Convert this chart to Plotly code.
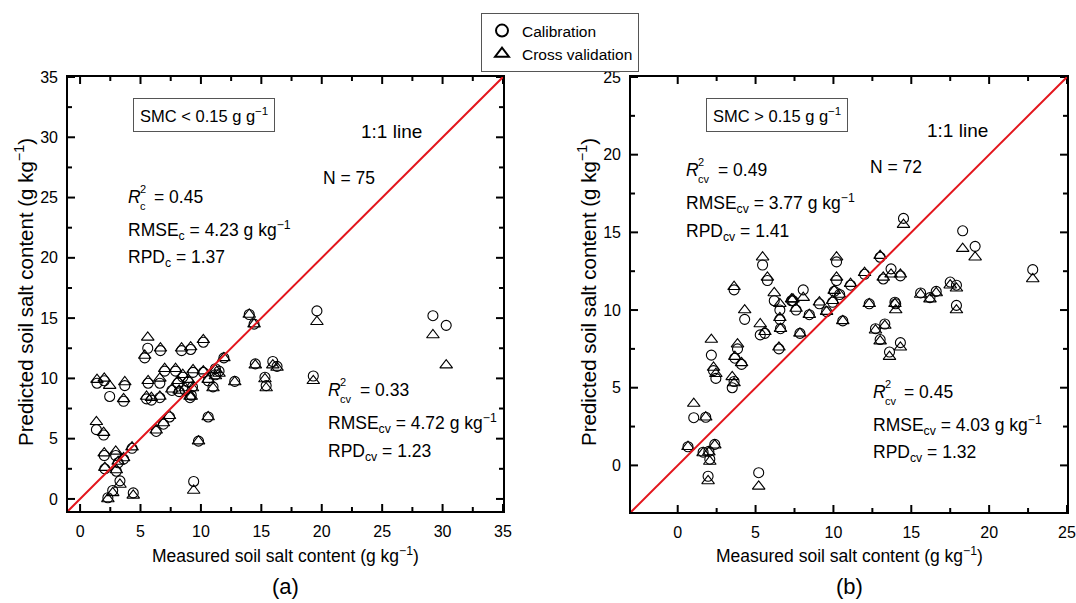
import plotly.graph_objects as go

W, H = 1076, 603
FONT = "Liberation Sans, Arial, sans-serif"

# ---- (a) SMC < 0.15 g g-1 : measured vs predicted soil salt content ----
meas_a = [1.4, 2.0, 2.45, 3.7, 3.6, 1.35, 1.95, 2.0, 2.95, 2.05, 3.0, 3.15, 3.6, 4.3,
          3.3, 2.7, 2.3, 4.4, 5.6, 5.35, 6.65, 8.4, 9.15, 5.63, 5.5, 5.9, 6.6, 6.6,
          7.0, 7.9, 8.1, 8.2, 8.5, 8.95, 9.1, 9.35, 7.4, 6.9, 6.3, 9.8, 9.4, 10.2,
          11.9, 14.0, 14.4, 19.6, 14.5, 15.95, 16.3, 15.3, 15.4, 19.3, 12.8, 10.2,
          11.2, 11.2, 10.6, 11.0, 9.3, 9.2, 10.6, 29.2, 30.3, 7.6, 8.7, 11.5]
cal_a = [9.6, 9.8, 8.5, 9.4, 8.1, 5.75, 5.3, 3.6, 3.6, 2.5, 2.3, 3.0, 3.3, 4.2,
         1.5, 0.7, 0.1, 0.5, 12.5, 11.7, 12.3, 12.3, 12.4, 9.6, 8.3, 8.2, 8.4, 9.6,
         10.6, 10.6, 9.6, 8.9, 10.1, 9.7, 8.4, 10.5, 6.8, 6.2, 5.6, 4.8, 1.45, 13.0,
         11.7, 15.3, 14.5, 15.6, 11.2, 11.4, 11.0, 10.1, 9.4, 10.2, 9.75, 10.5,
         10.8, 10.3, 9.8, 9.3, 9.3, 8.6, 6.8, 15.2, 14.4, 9.0, 9.0, 10.6]
cv_a = [9.9, 10.0, 9.4, 9.7, 8.3, 6.4, 5.5, 3.8, 3.95, 2.6, 2.4, 3.1, 3.4, 4.3,
        1.2, 0.5, 0.0, 0.3, 13.4, 11.9, 12.5, 12.5, 12.6, 9.8, 8.5, 8.4, 8.5, 10.0,
        10.8, 10.8, 9.8, 9.0, 10.3, 9.9, 8.5, 10.7, 6.9, 6.3, 5.7, 4.8, 0.7, 13.2,
        11.7, 15.3, 14.5, 14.7, 11.1, 11.1, 10.9, 9.95, 9.2, 9.8, 9.7, 10.6,
        10.7, 10.2, 9.9, 9.2, 9.2, 8.5, 6.8, 13.6, 11.1, 9.1, 9.2, 10.4]

# ---- (b) SMC > 0.15 g g-1 ----
meas_b = [0.66, 1.03, 1.8, 1.63, 2.38, 2.06, 2.0, 1.95, 2.16, 2.3, 2.45, 3.5, 3.62,
          3.84, 3.67, 4.1, 4.3, 3.62, 5.45, 5.76, 5.3, 5.6, 6.2, 6.56, 6.56, 6.6,
          6.5, 7.31, 7.6, 8.06, 7.85, 7.4, 8.45, 9.1, 9.56, 9.95, 10.05, 10.4, 10.2,
          10.2, 10.6, 11.1, 12.0, 13.0, 13.7, 13.2, 14.3, 12.3, 12.7, 13.3, 13.0,
          13.6, 14.3, 13.95, 14.0, 14.5, 15.6, 16.2, 16.6, 17.5, 17.9, 17.9, 18.3,
          19.1, 22.8, 5.2]
cal_b = [1.2, 3.07, 3.1, 0.85, 1.35, 0.4, 0.9, -0.7, 7.1, 6.1, 5.6, 5.0, 5.4,
         7.5, 6.9, 6.5, 9.4, 11.3, 12.9, 11.9, 8.4, 8.5, 10.6, 10.0, 9.4, 8.8,
         7.5, 10.6, 10.0, 11.3, 8.5, 10.6, 9.7, 10.4, 9.9, 10.5, 11.2, 11.0, 13.1,
         11.9, 9.3, 11.6, 12.3, 13.4, 12.65, 12.0, 12.2, 10.4, 8.8, 9.1, 8.1,
         7.3, 7.9, 10.5, 10.4, 15.9, 11.1, 10.8, 11.2, 11.8, 11.6, 10.3, 15.1,
         14.1, 12.6, -0.47]
cv_b = [1.2, 3.98, 3.1, 0.8, 1.3, 0.25, 0.85, -1.0, 8.1, 6.3, 5.9, 5.7, 5.3,
        7.8, 7.0, 6.6, 10.0, 11.5, 13.4, 12.1, 9.1, 8.6, 11.1, 10.4, 9.5, 8.8,
        7.6, 10.7, 10.1, 10.8, 8.5, 10.7, 9.7, 10.5, 9.9, 10.6, 11.25, 11.0, 13.4,
        12.1, 9.3, 11.7, 12.4, 13.5, 12.3, 12.1, 12.3, 10.4, 8.7, 9.0, 8.0,
        7.0, 7.6, 10.4, 10.0, 15.5, 11.0, 10.7, 11.1, 11.6, 11.4, 10.0, 13.95,
        13.4, 12.0, -1.35]

# axis limits (also the ends of the 1:1 lines)
range_a = [-1, 35]
range_b = [-3, 25]
ticks_a = [0, 5, 10, 15, 20, 25, 30, 35]
ticks_b = [0, 5, 10, 15, 20, 25]

# plot-area boxes in pixels: left, right, top, bottom
box_a = (68, 503, 77, 511)
box_b = (631, 1067, 77, 512)


def px(x):
    return x / W


def py(y):
    return 1 - y / H


def frame_ticks(rng, ticks, box):
    """Segments for inward major/minor ticks on all four sides of a panel."""
    step = ticks[1] - ticks[0]
    minor = [t + step / 2 for t in ticks if rng[0] < t + step / 2 < rng[1]]
    ux = (rng[1] - rng[0]) / (box[1] - box[0])  # data units per pixel
    uy = (rng[1] - rng[0]) / (box[3] - box[2])
    xs, ys = [], []
    for vals, ln in [(ticks, 7), (minor, 4)]:
        for t in vals:
            for edge, sign in [(rng[0], 1), (rng[1], -1)]:
                xs += [t, t, None, edge, edge + sign * ln * ux, None]
                ys += [edge, edge + sign * ln * uy, None, t, t, None]
    return xs, ys


fig = go.Figure()

for xs, ys_c, ys_v, xa, ya, rng, tks, box, leg in [
    (meas_a, cal_a, cv_a, "x", "y", range_a, ticks_a, box_a, True),
    (meas_b, cal_b, cv_b, "x2", "y2", range_b, ticks_b, box_b, False),
]:
    tx, ty = frame_ticks(rng, tks, box)
    fig.add_trace(go.Scatter(x=tx, y=ty, mode="lines", line=dict(color="black", width=2),
                             xaxis=xa, yaxis=ya, showlegend=False, hoverinfo="skip",
                             cliponaxis=False))
    fig.add_trace(go.Scatter(x=xs, y=ys_c, mode="markers", name="Calibration",
                             marker=dict(symbol="circle-open", size=10, color="black",
                                         line=dict(width=1.1)),
                             xaxis=xa, yaxis=ya, showlegend=leg))
    fig.add_trace(go.Scatter(x=xs, y=ys_v, mode="markers", name="Cross validation",
                             marker=dict(symbol="triangle-up-open", size=11, color="black",
                                         line=dict(width=1.1)),
                             xaxis=xa, yaxis=ya, showlegend=leg))
    fig.add_trace(go.Scatter(x=rng, y=rng, mode="lines", line=dict(color="#e3151c", width=2),
                             xaxis=xa, yaxis=ya, showlegend=False, hoverinfo="skip"))


def axis(domain, rng, ticks):
    return dict(
        domain=domain, range=rng, tickmode="array", tickvals=ticks, automargin=False,
        showgrid=False, zeroline=False,
        showline=True, linecolor="black", linewidth=1.6, mirror=True,
        ticks="", ticklabelstandoff=5,
        tickfont=dict(family=FONT, size=16, color="black"),
    )


fig.update_layout(
    width=W, height=H, margin=dict(l=0, r=0, t=0, b=0, pad=0, autoexpand=False),
    paper_bgcolor="white", plot_bgcolor="white",
    font=dict(family=FONT, size=16, color="black"),
    xaxis=axis([px(box_a[0]), px(box_a[1])], range_a, ticks_a) | dict(anchor="y"),
    yaxis=axis([py(box_a[3]), py(box_a[2])], range_a, ticks_a) | dict(anchor="x"),
    xaxis2=axis([px(box_b[0]), px(box_b[1])], range_b, ticks_b) | dict(anchor="y2"),
    yaxis2=axis([py(box_b[3]), py(box_b[2])], range_b, ticks_b) | dict(anchor="x2"),
    legend=dict(x=px(481), y=py(13), xanchor="left", yanchor="top",
                bordercolor="#555", borderwidth=1, bgcolor="white",
                font=dict(family=FONT, size=15.5, color="black"),
                itemsizing="constant", tracegroupgap=0, itemwidth=30),
    showlegend=True,
)


def text(x, y, s, size=17.5, xanchor="left", **kw):
    fig.add_annotation(x=px(x), y=py(y), xref="paper", yref="paper", text=s,
                       showarrow=False, xanchor=xanchor, yanchor="middle",
                       font=dict(family=FONT, size=size, color="black"), **kw)


def r2(x, y, sub, value, eq_x):
    text(x, y, "<i>R</i>")
    text(x + 12, y - 8, "2", size=11)
    text(x + 12, y + 9, sub, size=11)
    text(eq_x, y, "= " + value)


SUP = "<sup>\u22121</sup>"

# panel (a)
text(204, 115, "SMC &lt; 0.15 g g" + SUP, size=16.5, xanchor="center",
     bordercolor="#555", borderwidth=1, borderpad=6)
text(359, 131, "1:1 line", size=19)
text(321, 178, "N = 75")
r2(126, 197, "c", "0.45", 152)
text(126, 230, "RMSE<sub>c</sub> = 4.23 g kg" + SUP)
text(126, 259, "RPD<sub>c</sub> = 1.37")
r2(326, 390, "cv", "0.33", 358)
text(326, 423, "RMSE<sub>cv</sub> = 4.72 g kg" + SUP)
text(326, 452, "RPD<sub>cv</sub> = 1.23")

# panel (b)
text(777, 115, "SMC &gt; 0.15 g g" + SUP, size=16.5, xanchor="center",
     bordercolor="#555", borderwidth=1, borderpad=6)
text(925, 130, "1:1 line", size=19)
text(868, 167, "N = 72")
r2(684, 170, "cv", "0.49", 716)
text(684, 203, "RMSE<sub>cv</sub> = 3.77 g kg" + SUP)
text(684, 232, "RPD<sub>cv</sub> = 1.41")
r2(871, 392, "cv", "0.45", 902)
text(871, 425, "RMSE<sub>cv</sub> = 4.03 g kg" + SUP)
text(871, 453, "RPD<sub>cv</sub> = 1.32")

# axis titles and panel labels
ytitle = "Predicted soil salt content (g kg" + SUP + ")"
xtitle = "Measured soil salt content (g kg" + SUP + ")"
text(24, 292, ytitle, size=20.5, xanchor="center", textangle=-90)
text(587, 292, ytitle, size=20.5, xanchor="center", textangle=-90)
text(285, 555, xtitle, size=17.5, xanchor="center")
text(849, 555, xtitle, size=17.5, xanchor="center")
text(285, 586, "(a)", size=22, xanchor="center")
text(849, 586, "(b)", size=22, xanchor="center")

fig.write_html("out.html")
